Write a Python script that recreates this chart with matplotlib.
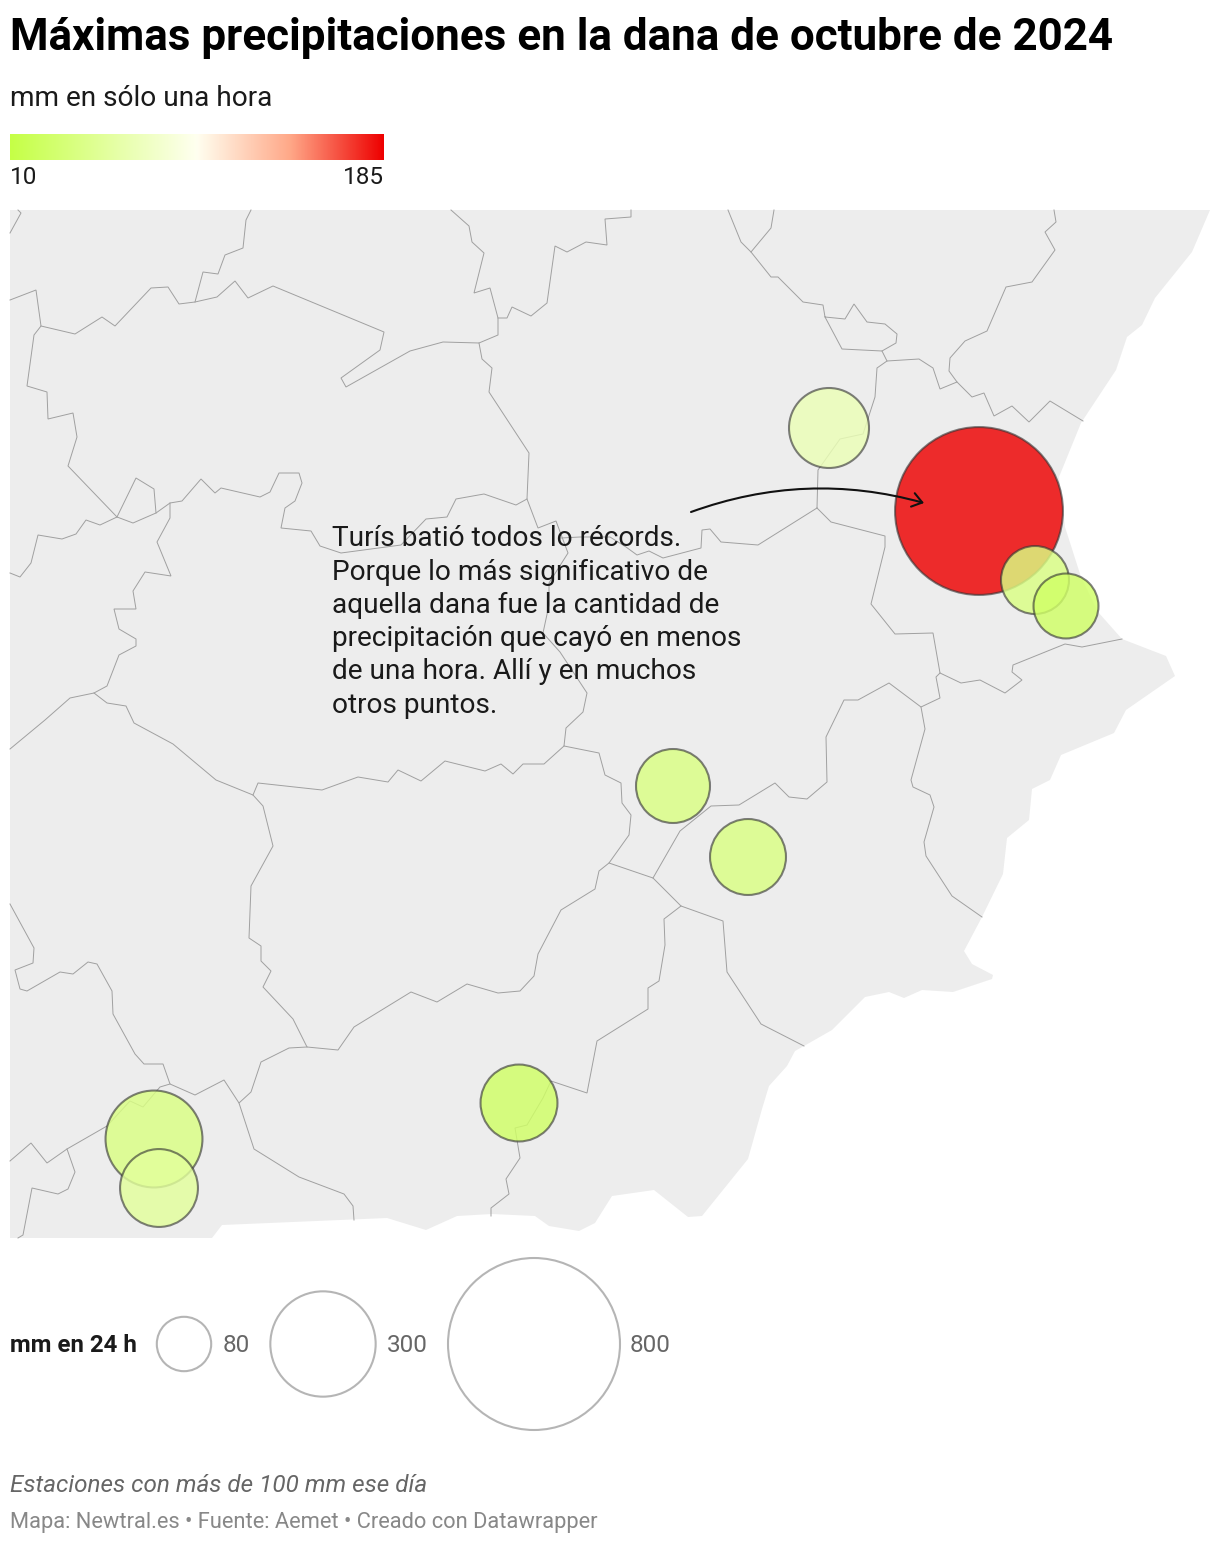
import numpy as np
import matplotlib
matplotlib.use("Agg")
import matplotlib.pyplot as plt
from matplotlib.colors import LinearSegmentedColormap, Normalize
from matplotlib.patches import Circle, FancyArrowPatch, Polygon

plt.rcParams["font.family"] = ["Roboto", "DejaVu Sans"]

# stations: map position, mm in 24 h (size), mm in one hour (colour)
station_x = [979, 829, 1035, 1066, 673, 748, 519, 154, 159]
station_y = [511, 428, 580, 606, 786, 857, 1103, 1139, 1188]
station_mm24 = [762, 173, 125, 114, 148, 156, 160, 254, 164]
station_mm1h = [185, 68, 42, 27, 42, 42, 27, 42, 54]

size_legend_mm = [80, 300, 800]
size_legend_x = [184, 323, 534]
size_legend_label_x = [223, 387, 630]

color_min = 10
color_max = 185

coast = [
    (10, 210), (1210, 210), (1192, 252), (1155, 298), (1142, 325), (1127, 337), (1116, 370),
    (1081, 423), (1059, 477), (1065, 527), (1081, 577), (1098, 612), (1122, 639), (1166, 656),
    (1175, 676), (1126, 710), (1114, 733), (1061, 755), (1050, 780), (1032, 789), (1029, 820),
    (1007, 838), (1003, 874), (982, 917), (964, 951), (972, 964), (993, 975), (992, 979),
    (953, 992), (922, 990), (904, 998), (889, 992), (865, 997), (832, 1030), (804, 1046),
    (795, 1051), (787, 1066), (769, 1086), (762, 1109), (748, 1159), (702, 1216), (688, 1217),
    (654, 1190), (612, 1196), (595, 1223), (579, 1231), (549, 1226), (535, 1216), (492, 1214),
    (457, 1216), (426, 1230), (387, 1218), (222, 1225), (212, 1238), (10, 1238),
]

borders = [
    [(10, 233), (21, 213), (18, 210)],
    [(10, 300), (36, 290), (41, 326), (34, 335), (27, 386), (47, 392), (48, 419), (73, 413),
     (77, 437), (68, 466), (117, 517)],
    [(41, 326), (75, 334), (102, 317), (115, 326), (151, 288), (168, 287), (179, 304), (195, 302),
     (217, 297), (235, 281), (248, 298), (273, 286), (384, 332), (380, 350), (341, 378), (346, 387),
     (410, 351), (443, 342), (479, 343), (498, 335), (498, 318), (490, 288), (474, 293), (484, 253),
     (472, 242), (469, 226), (451, 210)],
    [(195, 302), (203, 272), (218, 274), (225, 255), (243, 248), (246, 220), (251, 210)],
    [(498, 318), (507, 318), (512, 307), (531, 316), (547, 303), (555, 246), (567, 252), (586, 242),
     (607, 245), (605, 219), (631, 217), (631, 210)],
    [(479, 343), (482, 359), (492, 368), (489, 392), (529, 453), (527, 499), (538, 528), (556, 521),
     (568, 553), (549, 583), (549, 605), (543, 633), (560, 652), (587, 693), (583, 712), (566, 728),
     (564, 746), (599, 753), (605, 775), (621, 783), (622, 803), (631, 815), (629, 835), (609, 863),
     (653, 878), (681, 906), (723, 921), (727, 972), (761, 1024), (804, 1046)],
    [(561, 538), (580, 537), (610, 537), (626, 547), (637, 555), (649, 551), (663, 558), (701, 548),
     (702, 530), (710, 529), (721, 542), (758, 545), (817, 508)],
    [(653, 878), (680, 831), (711, 806), (739, 805), (775, 783), (789, 797), (807, 799), (827, 782),
     (826, 737), (844, 700), (858, 700), (889, 683), (921, 707), (940, 698), (936, 677), (940, 673)],
    [(921, 707), (925, 729), (911, 780), (913, 787), (930, 795), (934, 807), (924, 842), (926, 856),
     (952, 896), (982, 917)],
    [(817, 508), (818, 470), (840, 439), (863, 434), (875, 397), (877, 368), (887, 361), (919, 359),
     (933, 368), (940, 389), (957, 382), (949, 371), (950, 358), (965, 341), (987, 331), (1006, 287),
     (1032, 282), (1055, 250), (1045, 232), (1056, 222), (1054, 210)],
    [(957, 382), (972, 397), (984, 393), (994, 416), (1012, 406), (1029, 422), (1050, 401), (1083, 421)],
    [(728, 210), (741, 242), (751, 252), (771, 277), (778, 277), (803, 302), (823, 305), (825, 317),
     (845, 319), (854, 304), (867, 322), (885, 324), (897, 334), (896, 343), (882, 351), (842, 349),
     (825, 317)],
    [(882, 351), (887, 361)],
    [(751, 252), (771, 228), (774, 210)],
    [(817, 508), (831, 522), (885, 536), (885, 547), (871, 604), (895, 634), (933, 633), (940, 673),
     (961, 683), (980, 680), (1005, 693), (1022, 680), (1012, 672), (1013, 665), (1065, 644),
     (1082, 647), (1122, 639)],
    [(10, 573), (20, 577), (31, 563), (38, 535), (62, 539), (76, 534), (86, 520), (100, 525), (117, 517),
     (133, 523), (156, 513), (170, 503), (182, 501), (201, 479), (215, 493), (221, 488), (260, 497),
     (270, 492), (279, 473), (299, 473), (302, 483), (295, 501), (285, 508), (281, 528), (311, 531),
     (320, 546), (341, 553), (401, 545), (426, 519), (447, 517), (456, 499), (484, 494), (516, 505),
     (527, 499)],
    [(117, 517), (136, 478), (154, 489), (156, 513)],
    [(170, 503), (170, 518), (157, 542), (171, 576), (145, 572), (133, 591), (136, 609), (114, 609),
     (119, 629), (136, 639), (136, 646), (119, 655), (107, 686), (94, 693), (70, 698), (45, 720),
     (10, 749)],
    [(94, 693), (107, 703), (126, 706), (134, 723), (173, 744), (216, 780), (253, 795), (263, 806),
     (273, 846), (251, 886), (249, 938), (261, 946), (261, 961), (271, 971), (263, 987), (293, 1019),
     (307, 1047), (338, 1050), (354, 1027), (411, 992), (437, 1002), (467, 984), (498, 993), (520, 991),
     (534, 976), (538, 954), (561, 910), (595, 889), (599, 871), (609, 863)],
    [(253, 795), (258, 783), (322, 790), (358, 777), (388, 782), (398, 770), (421, 781), (445, 761),
     (485, 771), (501, 764), (513, 774), (523, 764), (544, 764), (564, 746)],
    [(10, 904), (34, 948), (33, 963), (15, 970), (20, 989), (27, 991), (60, 972), (73, 974), (88, 962),
     (97, 964), (112, 991), (113, 1014), (135, 1054), (144, 1064), (163, 1064), (170, 1084), (195, 1095),
     (224, 1080), (239, 1103), (251, 1092), (261, 1062), (289, 1048), (307, 1047)],
    [(170, 1084), (160, 1087), (154, 1094), (143, 1107), (130, 1101), (107, 1126), (67, 1149),
     (47, 1163), (31, 1143), (10, 1161)],
    [(67, 1149), (75, 1172), (68, 1189), (58, 1194), (32, 1188), (23, 1235), (18, 1238)],
    [(239, 1103), (254, 1149), (299, 1177), (344, 1194), (353, 1206), (354, 1220)],
    [(681, 906), (664, 919), (665, 945), (659, 981), (648, 988), (648, 1009), (597, 1041), (587, 1093),
     (551, 1081), (543, 1098), (527, 1125), (515, 1128), (520, 1158), (506, 1179), (509, 1194),
     (491, 1208), (491, 1216)],
]

LAND = "#ededed"
BORDER = "#a0a0a0"
cmap = LinearSegmentedColormap.from_list(
    "rain", [(0, "#c5ff46"), (0.5, "#fffff0"), (0.75, "#ffa888"), (1, "#ee0000")]
)
norm = Normalize(color_min, color_max)


def radius(mm):
    return 86 * np.sqrt(mm / 800)


fig = plt.figure(figsize=(12.2, 15.46), dpi=100)
ax = fig.add_axes([0, 0, 1, 1])

# map
ax.add_patch(Polygon(coast, closed=True, facecolor=LAND, edgecolor="none", zorder=1))
for line in borders:
    xs, ys = zip(*line)
    ax.plot(xs, ys, color=BORDER, lw=0.7, zorder=2, solid_joinstyle="miter")

# stations
for x, y, mm24, mm1h in zip(station_x, station_y, station_mm24, station_mm1h):
    ax.add_patch(Circle((x, y), radius(mm24), facecolor=cmap(norm(mm1h), alpha=0.82), edgecolor="none", zorder=3))
    ax.add_patch(Circle((x, y), radius(mm24), facecolor="none", edgecolor="#333333", alpha=0.62, lw=1.5, zorder=3))

# annotation
ax.text(332, 525.5,
        "Turís batió todos lo récords.\nPorque lo más significativo de\naquella dana fue la cantidad de\n"
        "precipitación que cayó en menos\nde una hora. Allí y en muchos\notros puntos.",
        fontsize=20.2, color="#1a1a1a", va="top", ha="left", linespacing=1.295, zorder=5)
ax.add_patch(FancyArrowPatch((691, 512), (924, 503), connectionstyle="arc3,rad=-0.16",
                             arrowstyle="->,head_length=7,head_width=5", color="#111111", lw=1.5,
                             shrinkA=0, shrinkB=0, zorder=5))

# header
ax.text(10, 38, "Máximas precipitaciones en la dana de octubre de 2024", fontsize=31.7, fontweight="bold",
        color="black", va="center", ha="left")
ax.text(10, 99, "mm en sólo una hora", fontsize=20.15, color="#1a1a1a", va="center", ha="left")

# colour legend
gradient = np.linspace(0, 1, 256).reshape(1, -1)
ax.imshow(gradient, cmap=cmap, extent=(10, 384, 160, 134), aspect="auto", zorder=2)
ax.text(10, 178, str(color_min), fontsize=17.5, color="#1a1a1a", va="center", ha="left")
ax.text(384, 178, str(color_max), fontsize=17.5, color="#1a1a1a", va="center", ha="right")

# size legend
ax.text(10, 1346, "mm en 24 h", fontsize=17.3, fontweight="bold", color="#1a1a1a", va="center", ha="left")
for mm, x, label_x in zip(size_legend_mm, size_legend_x, size_legend_label_x):
    ax.add_patch(Circle((x, 1344), radius(mm), facecolor="none", edgecolor="#b5b5b5", lw=1.5, zorder=3))
    ax.text(label_x, 1346, str(mm), fontsize=17.5, color="#666666", va="center", ha="left")

# footer
ax.text(10, 1486, "Estaciones con más de 100 mm ese día", fontsize=17.45, style="italic", color="#666666",
        va="center", ha="left")
ax.text(10, 1522.5, "Mapa: Newtral.es • Fuente: Aemet • Creado con Datawrapper", fontsize=15.75, color="#888888",
        va="center", ha="left")

ax.set_xlim(0, 1220)
ax.set_ylim(1546, 0)
ax.axis("off")

fig.savefig("out.png", dpi=100, facecolor="white")
